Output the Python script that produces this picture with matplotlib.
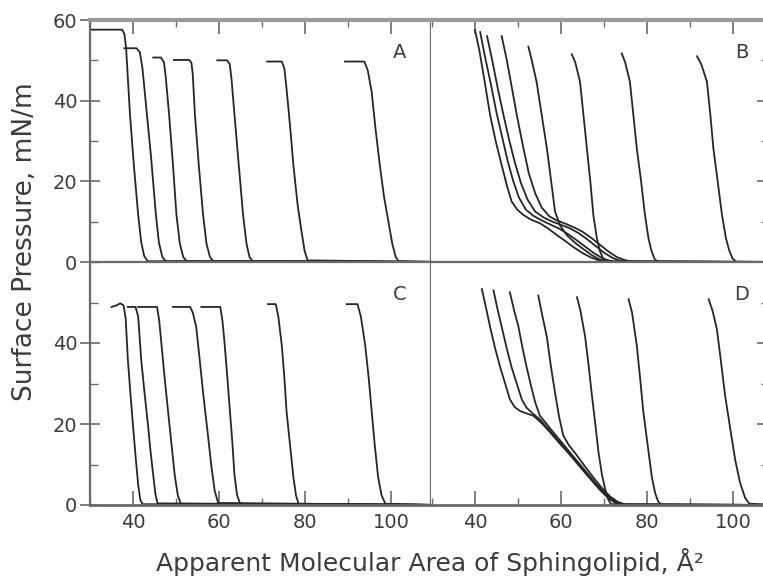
import matplotlib
matplotlib.use("Agg")
import matplotlib.pyplot as plt
from matplotlib.ticker import MultipleLocator, FixedLocator

plt.rcParams['font.family'] = ['DejaVu Sans']

# ---------------- data: (area Å², pressure mN/m) ----------------
A_area = [
    [30, 37.5, 38.0, 38.4, 39.3, 40.2, 41.2, 41.9, 42.6, 43.4, 112],
    [38.0, 40.8, 41.6, 42.2, 43.2, 44.2, 45.3, 46.0, 46.8, 47.6, 112],
    [44.7, 46.5, 47.2, 47.6, 48.4, 49.3, 50.1, 50.9, 51.7, 52.5, 112],
    [49.5, 53.1, 53.6, 53.9, 54.4, 55.3, 56.3, 57.1, 57.9, 58.7, 112],
    [59.6, 61.9, 62.5, 62.9, 63.6, 64.6, 65.6, 66.4, 67.1, 67.9, 112],
    [71.2, 74.6, 75.2, 75.7, 76.5, 77.3, 78.3, 79.2, 79.9, 80.6, 112],
    [89.3, 93.8, 94.6, 95.5, 96.4, 97.4, 98.4, 99.4, 100.3, 101.1, 101.8, 112],
]
A_pressure = [
    [57.6, 57.6, 56.5, 53, 36.5, 24, 11.7, 5, 1.5, 0.2, 0],
    [53, 53, 52, 48, 37, 26, 12, 5, 1.3, 0.2, 0],
    [50.7, 50.7, 49.5, 46, 36.5, 24, 11.7, 4.5, 1.2, 0.2, 0],
    [50.1, 50.1, 49.3, 46.5, 36.5, 24, 11.7, 4.5, 1.2, 0.2, 0],
    [50, 50, 49, 45.5, 36.5, 24, 11.7, 4.5, 1.2, 0.2, 0],
    [49.7, 49.7, 48, 43, 34, 24, 14, 7.5, 2.8, 0.4, 0],
    [49.7, 49.7, 47.5, 42.2, 33, 24, 16, 10, 4.5, 1.2, 0.2, 0],
]

B_area = [
    [40.0, 41.0, 42.2, 43.5, 44.8, 46.2, 47.4, 48.5, 49.8, 51.2, 53, 55.1, 57, 59, 61, 63, 65, 67, 68.8, 70, 112],
    [41.2, 42.3, 43.7, 45.0, 46.3, 47.6, 48.9, 50.2, 51.8, 53.5, 55.5, 57.5, 59.5, 61.5, 63.5, 65.5, 67.5, 69.5, 71, 72.5, 112],
    [42.8, 44, 45.3, 46.6, 48, 49.3, 50.7, 52.2, 54, 56, 58, 60, 62, 64, 66, 68, 70, 72, 73.5, 75, 112],
    [46.2, 47.4, 48.6, 49.7, 51.1, 52.5, 54, 55.5, 57.3, 59, 61, 63, 65, 67, 69, 71, 73, 75, 76.5, 112],
    [52.4, 53.2, 54.3, 55.5, 56.7, 57.7, 58.6, 59.8, 61.3, 63.2, 65.2, 67, 68.8, 70.5, 112],
    [62.5, 63.3, 64.4, 65.2, 66.0, 66.8, 67.5, 68.3, 69.0, 69.8, 70.5, 112],
    [74.1, 74.9, 76.0, 76.8, 77.6, 78.6, 79.5, 80.3, 81.0, 81.7, 82.4, 112],
    [91.6, 92.6, 93.9, 94.7, 95.4, 96.4, 97.4, 98.3, 99.1, 99.9, 100.7, 112],
]
B_pressure = [
    [57.5, 52.5, 45, 36.5, 30, 24, 19, 15, 13, 11.7, 10.5, 9.6, 8.3, 6.7, 5.2, 3.6, 2.2, 1.1, 0.4, 0.1, 0],
    [57, 51, 44, 37, 31, 25, 20, 16, 13, 11.5, 10.3, 9.3, 8.3, 7, 5.5, 3.9, 2.3, 1.0, 0.4, 0.1, 0],
    [56, 50, 43, 36.5, 30, 24.5, 19.5, 15.5, 12.5, 11, 10, 9.2, 8.4, 7.2, 5.7, 4, 2.3, 1.0, 0.4, 0.1, 0],
    [56, 50, 43, 36.5, 29, 22, 17, 13.5, 11.3, 10.3, 9.5, 8.6, 7.5, 6, 4.3, 2.6, 1.2, 0.4, 0.1, 0],
    [53.4, 50, 44.7, 36.5, 28.2, 20, 12.5, 9, 6.7, 4.8, 3.2, 1.8, 0.7, 0.1, 0],
    [51.5, 49.5, 44.7, 36.5, 28.2, 20, 11.7, 6, 2.8, 0.8, 0.1, 0],
    [51.7, 49.5, 44.7, 36.5, 28.2, 20, 11.7, 6, 2.8, 0.8, 0.1, 0],
    [51, 49, 44.7, 36.5, 28.2, 20, 11.7, 6, 2.8, 0.8, 0.1, 0],
]

C_area = [
    [35, 36.2, 37.0, 37.8, 38.3, 38.8, 39.4, 40.0, 40.6, 41.2, 41.7, 42.2, 112],
    [38.8, 40.6, 41.2, 41.9, 42.7, 43.5, 44.1, 44.7, 45.2, 45.7, 112],
    [41.2, 45.6, 46.1, 46.6, 47.3, 48.1, 48.9, 49.7, 50.4, 51.1, 112],
    [49.3, 53.3, 53.9, 54.7, 55.5, 56.3, 57.3, 58.2, 59.0, 59.8, 112],
    [55.9, 60.3, 60.8, 61.3, 61.9, 62.5, 63.1, 63.6, 64.2, 64.9, 112],
    [71.4, 73.2, 73.8, 74.6, 75.2, 75.7, 76.5, 77.3, 77.9, 78.5, 112],
    [89.7, 92.2, 93.0, 94.0, 94.8, 95.5, 96.2, 97.0, 97.8, 98.7, 112],
]
C_pressure = [
    [48.9, 49.3, 49.8, 49.3, 46, 36, 27.5, 19.6, 12, 5, 1.3, 0.2, 0],
    [48.9, 48.9, 46.5, 36, 27.5, 19.6, 13, 7.4, 2.8, 0.4, 0],
    [48.9, 48.9, 45.5, 39.9, 32, 23.7, 15.5, 7.4, 2.5, 0.3, 0],
    [48.9, 48.9, 47.5, 44, 36, 27.7, 18.5, 9.8, 3.5, 0.5, 0],
    [48.9, 48.9, 45.5, 39.9, 32, 23.7, 15.5, 7.4, 2.5, 0.3, 0],
    [49.6, 49.6, 46.5, 39.4, 31.5, 23.2, 15, 6.9, 2.4, 0.3, 0],
    [49.6, 49.6, 46.5, 39.4, 31.5, 23.2, 15, 6.9, 2.4, 0.3, 0],
]

D_area = [
    [41.6, 42.5, 43.5, 44.6, 45.8, 47.0, 48.1, 49.2, 50.5, 52, 53.6, 55.5, 57.4, 60, 62.9, 65.3, 67.5, 69.3, 71, 72.5, 74, 112],
    [44.3, 45.2, 46.2, 47.3, 48.5, 49.7, 50.9, 52, 53.2, 55, 57, 59.5, 62, 64.5, 67, 69, 71, 72.7, 74.5, 112],
    [48.1, 49.1, 50.1, 51.0, 52.0, 53.0, 54.0, 55.1, 56.5, 58, 60.5, 63, 65.5, 68, 70, 72, 73.6, 75.2, 112],
    [54.7, 55.6, 56.7, 57.6, 58.6, 59.5, 60.5, 61.8, 63.5, 65.5, 67.5, 69.5, 71.5, 73.3, 75, 112],
    [63.7, 64.5, 65.6, 66.4, 67.1, 67.9, 68.7, 69.5, 70.2, 70.9, 71.6, 112],
    [75.7, 76.5, 77.6, 78.4, 79.1, 80.1, 81.1, 81.9, 82.6, 83.3, 112],
    [94.3, 95.2, 96.2, 97.1, 98.1, 99.3, 100.5, 101.6, 102.8, 103.8, 112],
]
D_pressure = [
    [53.3, 49, 44, 39, 34.2, 30, 26.1, 24.2, 23.2, 22.6, 22, 20.2, 18, 14.8, 11.5, 8.5, 5.8, 3.5, 1.7, 0.6, 0.1, 0],
    [53, 48.5, 44, 39, 34, 30, 26, 24, 22.8, 21.2, 18.8, 15.7, 12.5, 9.3, 6.2, 3.8, 1.8, 0.6, 0.1, 0],
    [52.5, 48, 44, 39, 34, 29.5, 25.3, 22, 20.2, 18.2, 15, 11.8, 8.6, 5.4, 3.1, 1.3, 0.4, 0.05, 0],
    [51.7, 47, 41.5, 34.5, 27.7, 22, 17.2, 14.8, 12.5, 9.6, 6.8, 4.2, 2.0, 0.7, 0.1, 0],
    [51.3, 48, 41.5, 34.5, 27.7, 20.5, 13, 7.5, 4.1, 1.5, 0.2, 0],
    [50.8, 47.5, 39.4, 31, 23.2, 15, 6.9, 2.8, 0.8, 0.1, 0],
    [50.8, 48, 43.5, 36, 27.2, 19, 11, 5.5, 1.7, 0.3, 0],
]

panel_letters = ['A', 'B', 'C', 'D']
x_major = [40, 60, 80, 100]
y_major_top = [0, 20, 40, 60]
y_major_bottom = [0, 20, 40]

# ---------------- figure ----------------
W, H = 763, 580
fig = plt.figure(figsize=(W / 100, H / 100), dpi=100)

def frac(x0, y0, x1, y1):
    return [x0 / W, 1 - y1 / H, (x1 - x0) / W, (y1 - y0) / H]

ax_A = fig.add_axes(frac(90, 20, 431, 262))
ax_B = fig.add_axes(frac(431, 20, 765, 262))
ax_C = fig.add_axes(frac(90, 262, 431, 505))
ax_D = fig.add_axes(frac(431, 262, 765, 505))

line_col = '#262626'
spine_col = '#6a6a6a'
text_col = '#3c3c3c'

panels = [
    (ax_A, A_area, A_pressure, 'left', 'top'),
    (ax_B, B_area, B_pressure, 'right', 'top'),
    (ax_C, C_area, C_pressure, 'left', 'bottom'),
    (ax_D, D_area, D_pressure, 'right', 'bottom'),
]

for (ax, areas, pressures, side, row), letter in zip(panels, panel_letters):
    for xs, ys in zip(areas, pressures):
        ax.plot(xs, ys, color=line_col, lw=1.3, solid_joinstyle='round')
    if side == 'left':
        ax.set_xlim(30, 109.3)
    else:
        ax.set_xlim(29.77, 107.4)
    ax.set_ylim(0, 60)
    for s in ax.spines.values():
        s.set_color(spine_col)
        s.set_linewidth(1.6)
    ax.spines['top'].set_linewidth(3 if row == 'top' else 1.6)
    ax.spines['top'].set_color('#9a9a9a' if row == 'top' else spine_col)
    ax.spines['bottom'].set_linewidth(2.0)

    ax.xaxis.set_major_locator(FixedLocator(x_major))
    ax.xaxis.set_minor_locator(MultipleLocator(10))
    ax.tick_params(axis='x', which='both', direction='in',
                   top=(row == 'top'), bottom=(row == 'bottom'),
                   color=spine_col, colors=text_col, labelsize=14, pad=6)
    ax.tick_params(axis='x', which='major', length=10, width=1.2)
    ax.tick_params(axis='x', which='minor', length=5, width=1.0)
    if row == 'top':
        ax.tick_params(axis='x', labelbottom=False)

    ax.yaxis.set_minor_locator(MultipleLocator(10))
    if side == 'left':
        ax.yaxis.set_major_locator(FixedLocator(y_major_top if row == 'top' else y_major_bottom))
        ax.tick_params(axis='y', which='major', direction='inout', length=14, width=1.2,
                       left=True, right=False, color=spine_col, colors=text_col,
                       labelsize=14, pad=2)
        ax.tick_params(axis='y', which='minor', direction='in', length=6, width=1.0,
                       left=True, right=False, color=spine_col)
    else:
        ax.yaxis.set_major_locator(FixedLocator([0, 20, 40, 60]))
        ax.tick_params(axis='y', which='both', direction='in', left=False, right=True,
                       labelleft=False, color=spine_col)
        ax.tick_params(axis='y', which='major', length=6, width=1.2)
        ax.tick_params(axis='y', which='minor', length=3, width=1.0)
        ax.spines['left'].set_visible(False)

    ax.text(102.0, 52, letter, ha='center', va='center', fontsize=14, color=text_col)

fig.text(25 / W, 1 - 242 / H, 'Surface Pressure, mN/m', rotation=90,
         ha='center', va='center', fontsize=19, color=text_col)
fig.text(430 / W, 1 - 562 / H, 'Apparent Molecular Area of Sphingolipid, Å²',
         ha='center', va='center', fontsize=18, color=text_col)

fig.savefig('out.png', dpi=100)
